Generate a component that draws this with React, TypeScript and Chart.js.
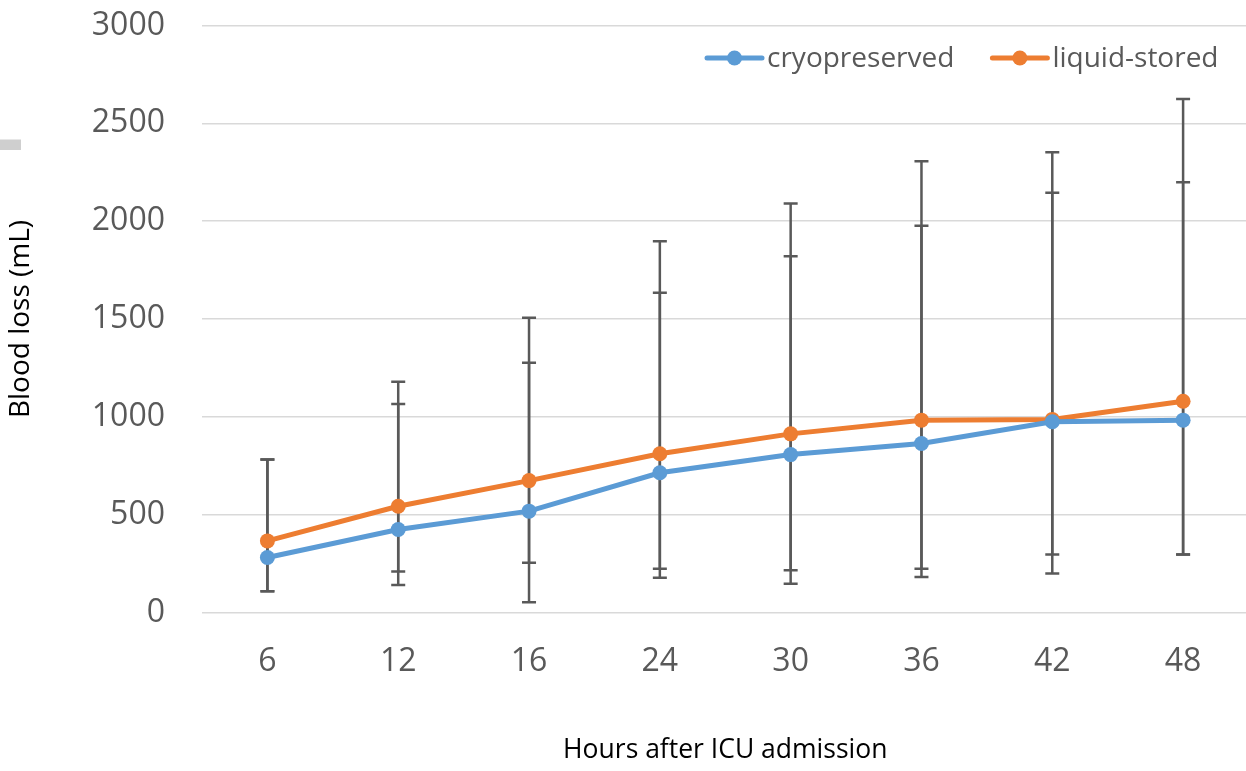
import React, { useEffect, useRef } from 'react';
import { Chart, registerables } from 'chart.js';

Chart.register(...registerables);

const categories = ['6', '12', '16', '24', '30', '36', '42', '48'];
const cryoValues = [281, 424, 518, 714, 807, 864, 975, 983];
const liquidValues = [366, 543, 674, 811, 913, 983, 987, 1080];
const cryoUpper = [782, 1066, 1276, 1634, 1821, 1977, 2145, 2199];
const cryoLower = [109, 209, 254, 223, 216, 223, 296, 296];
const liquidUpper = [782, 1179, 1506, 1897, 2090, 2306, 2352, 2625];
const liquidLower = [109, 141, 53, 177, 147, 182, 199, 296];
const seriesNames = ['cryopreserved', 'liquid-stored'];
const yTicks = [0, 500, 1000, 1500, 2000, 2500, 3000];

const FONT = "'Open Sans', 'DejaVu Sans', sans-serif";
const BLUE = '#5B9BD5';
const ORANGE = '#ED7D31';
const CANVAS_W = 1256;
const CANVAS_H = 771;

export default function App() {
  const ref = useRef<HTMLCanvasElement | null>(null);

  useEffect(() => {
    if (!ref.current) return;
    const bars = [
      { upper: cryoUpper, lower: cryoLower },
      { upper: liquidUpper, lower: liquidLower },
    ];

    const errorBars = {
      id: 'errorBars',
      beforeDatasetsDraw(chart: any) {
        const { ctx } = chart;
        const y = chart.scales.y;
        chart.data.datasets.forEach((_ds: any, i: number) => {
          const meta = chart.getDatasetMeta(i);
          const b = bars[i];
          meta.data.forEach((pt: any, j: number) => {
            const x = pt.x;
            const yt = y.getPixelForValue(b.upper[j]);
            const yb = y.getPixelForValue(b.lower[j]);
            ctx.save();
            ctx.strokeStyle = '#595959';
            ctx.lineWidth = 2.5;
            ctx.beginPath();
            ctx.moveTo(x, yt);
            ctx.lineTo(x, yb);
            ctx.moveTo(x - 7, yt);
            ctx.lineTo(x + 7, yt);
            ctx.moveTo(x - 7, yb);
            ctx.lineTo(x + 7, yb);
            ctx.stroke();
            ctx.restore();
          });
        });
      },
    };

    const customLegend = {
      id: 'customLegend',
      afterDraw(chart: any) {
        const { ctx, chartArea } = chart;
        ctx.save();
        ctx.font = `28px ${FONT}`;
        ctx.textBaseline = 'middle';
        const lineLen = 55;
        const gapText = 5;
        const gapItems = 38;
        const items = chart.data.datasets.map((ds: any) => ({
          label: ds.label,
          color: ds.borderColor,
          w: lineLen + gapText + ctx.measureText(ds.label).width,
        }));
        const total = items.reduce((s: number, it: any) => s + it.w, 0) + gapItems * (items.length - 1);
        let x = chartArea.right - 30 - total;
        const yc = 58;
        items.forEach((it: any) => {
          ctx.strokeStyle = it.color;
          ctx.lineWidth = 5;
          ctx.lineCap = 'round';
          ctx.beginPath();
          ctx.moveTo(x, yc);
          ctx.lineTo(x + lineLen, yc);
          ctx.stroke();
          ctx.fillStyle = it.color;
          ctx.beginPath();
          ctx.arc(x + lineLen / 2, yc, 7.5, 0, Math.PI * 2);
          ctx.fill();
          ctx.fillStyle = '#595959';
          ctx.textAlign = 'left';
          ctx.fillText(it.label, x + lineLen + gapText, yc + 1);
          x += it.w + gapItems;
        });
        ctx.restore();
      },
    };

    const artifact = {
      id: 'artifact',
      afterDraw(chart: any) {
        const { ctx } = chart;
        ctx.save();
        ctx.fillStyle = '#cfcfcf';
        ctx.fillRect(0, 139.5, 21, 10.5);
        ctx.restore();
      },
    };

    const chart = new Chart(ref.current, {
      type: 'line',
      data: {
        labels: categories,
        datasets: [
          {
            label: seriesNames[0],
            data: cryoValues,
            borderColor: BLUE,
            backgroundColor: BLUE,
            borderWidth: 5,
            pointRadius: 7.5,
            pointHoverRadius: 7.5,
            pointBorderWidth: 0,
            tension: 0,
          },
          {
            label: seriesNames[1],
            data: liquidValues,
            borderColor: ORANGE,
            backgroundColor: ORANGE,
            borderWidth: 5,
            pointRadius: 7.5,
            pointHoverRadius: 7.5,
            pointBorderWidth: 0,
            tension: 0,
          },
        ],
      },
      options: {
        responsive: false,
        animation: false,
        layout: { padding: { top: 25.5, right: 0, bottom: 0, left: 0 } },
        plugins: {
          legend: { display: false },
          tooltip: { enabled: false },
        },
        scales: {
          x: {
            offset: true,
            afterFit(scale: any) {
              scale.height = CANVAS_H - 612.5;
              scale.paddingLeft = 0;
              scale.paddingRight = 0;
            },
            grid: { display: false },
            border: { display: false },
            ticks: {
              color: '#595959',
              font: { family: FONT, size: 32 },
              padding: 22,
              maxRotation: 0,
            },
            title: {
              display: true,
              text: 'Hours after ICU admission',
              color: '#000000',
              font: { family: FONT, size: 26.5 },
              padding: { top: 0, bottom: 5 },
            },
          },
          y: {
            min: 0,
            max: 3000,
            afterBuildTicks(scale: any) {
              scale.ticks = yTicks.map((v) => ({ value: v }));
            },
            afterFit(scale: any) {
              scale.width = 202;
              scale.paddingTop = 0;
              scale.paddingBottom = 0;
            },
            grid: { color: '#d9d9d9', lineWidth: 1.5, drawTicks: false },
            border: { display: false },
            ticks: {
              color: '#595959',
              font: { family: FONT, size: 32 },
              padding: 37,
              callback: (v: any) => String(v),
            },
            title: {
              display: true,
              text: 'Blood loss (mL)',
              color: '#000000',
              font: { family: FONT, size: 28 },
              padding: { top: 4, bottom: 0 },
            },
          },
        },
      },
      plugins: [errorBars, customLegend, artifact],
    });

    let alive = true;
    if ((document as any).fonts && (document as any).fonts.ready) {
      (document as any).fonts.ready.then(() => {
        if (alive) chart.update();
      });
    }

    return () => {
      alive = false;
      chart.destroy();
    };
  }, []);

  return (
    <div style={{ position: 'absolute', left: 0, top: 0, width: 1246, height: 771, background: '#ffffff', overflow: 'hidden' }}>
      <canvas ref={ref} width={CANVAS_W} height={CANVAS_H} style={{ display: 'block', width: CANVAS_W, height: CANVAS_H }} />
    </div>
  );
}
